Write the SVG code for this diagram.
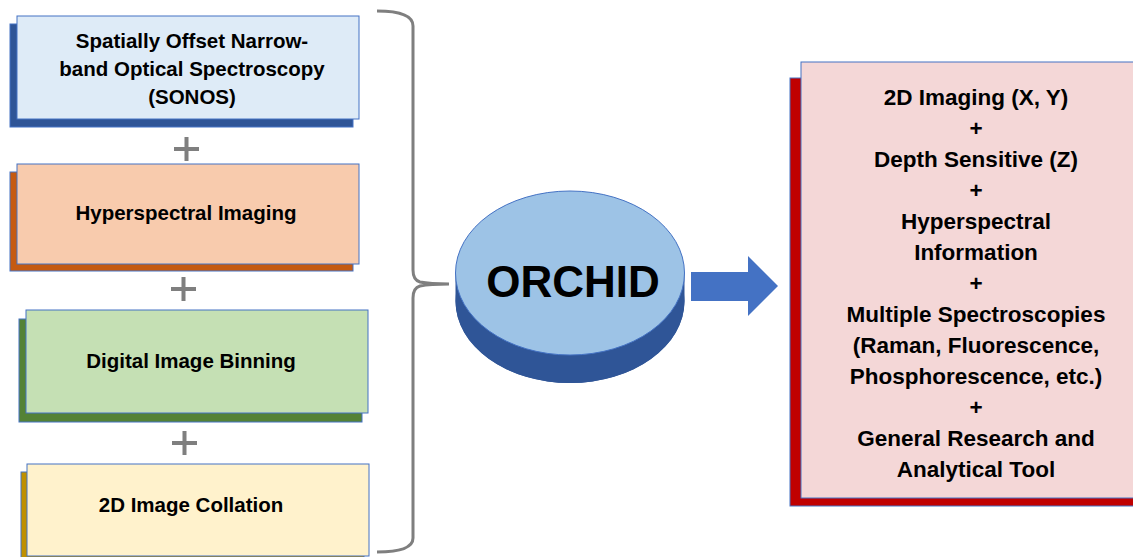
<svg xmlns="http://www.w3.org/2000/svg" width="1133" height="557" viewBox="0 0 1133 557">
  <style>
    .t { font-family: "Liberation Sans", Arial, sans-serif; font-weight: bold; fill: #000; text-anchor: middle; }
    .l { font-size: 20.5px; }
    .r { font-size: 22.5px; }
    .face { stroke: #4472C4; stroke-width: 1; }
    .back { stroke: #4472C4; stroke-width: 1; }
    .plus { stroke: #7F7F7F; stroke-width: 4; fill: none; }
    .brace { stroke: #7F7F7F; stroke-width: 3; fill: none; }
  </style>

  <!-- Input techniques -->
  <g id="sonos">
    <rect class="back" x="10" y="24" width="343" height="103" fill="#2F5597"/>
    <rect class="face" x="17" y="16" width="342" height="103" fill="#DEEBF7"/>
    <text class="t l" x="192" y="48">Spatially Offset Narrow-</text>
    <text class="t l" x="192" y="76">band Optical Spectroscopy</text>
    <text class="t l" x="192" y="104">(SONOS)</text>
  </g>

  <g id="hyperspectral">
    <rect class="back" x="10" y="172" width="343" height="99" fill="#C55A11"/>
    <rect class="face" x="17" y="164" width="342" height="100" fill="#F8CBAD"/>
    <text class="t l" x="186" y="220">Hyperspectral Imaging</text>
  </g>

  <g id="binning">
    <rect class="back" x="19" y="319" width="343" height="103" fill="#548235"/>
    <rect class="face" x="26" y="310" width="342" height="103" fill="#C5E0B4"/>
    <text class="t l" x="191" y="368">Digital Image Binning</text>
  </g>

  <g id="collation">
    <rect class="back" x="21" y="472" width="343" height="90" fill="#BF9000"/>
    <rect class="face" x="27" y="464" width="342" height="92" fill="#FFF2CC"/>
    <text class="t l" x="191" y="512">2D Image Collation</text>
  </g>

  <!-- Plus signs between techniques -->
  <g id="plus-signs">
    <path class="plus" d="M174,149 H199 M186.5,137 V161"/>
    <path class="plus" d="M171,289 H196 M183.5,277 V301"/>
    <path class="plus" d="M172,443 H197 M184.5,431 V455"/>
  </g>

  <!-- Central platform disc -->
  <g id="orchid">
    <path d="M455.5,273 V301 A114.5,82 0 0 0 684.5,301 V273 Z" fill="#2F5597"/>
    <ellipse cx="570" cy="301" rx="114.5" ry="82" fill="#2F5597"/>
    <ellipse cx="570" cy="273" rx="114.5" ry="82" fill="#9DC3E6" stroke="#4472C4" stroke-width="1"/>
    <text class="t" x="573" y="297" font-size="44">ORCHID</text>
  </g>

  <!-- Capabilities -->
  <g id="capabilities">
    <rect class="back" x="790" y="78" width="360" height="428" fill="#C00000"/>
    <rect class="face" x="801" y="62" width="350" height="436" fill="#F4D7D7"/>
    <text class="t r" x="976" y="105">2D Imaging (X, Y)</text>
    <text class="t r" x="976" y="136">+</text>
    <text class="t r" x="976" y="167">Depth Sensitive (Z)</text>
    <text class="t r" x="976" y="198">+</text>
    <text class="t r" x="976" y="229">Hyperspectral</text>
    <text class="t r" x="976" y="260">Information</text>
    <text class="t r" x="976" y="291">+</text>
    <text class="t r" x="976" y="322">Multiple Spectroscopies</text>
    <text class="t r" x="976" y="353">(Raman, Fluorescence,</text>
    <text class="t r" x="976" y="384">Phosphorescence, etc.)</text>
    <text class="t r" x="976" y="415">+</text>
    <text class="t r" x="976" y="446">General Research and</text>
    <text class="t r" x="976" y="477">Analytical Tool</text>
  </g>

  <!-- Connectors -->
  <g id="connectors">
    <path class="brace" d="M377,11 Q413,11 413,26 V270 Q413,280 420,282 Q430,284 449,284 Q430,284 420,286 Q413,288 413,298 V538 Q413,552 377,552"/>
    <path d="M691,272 H748 V256 L778,286 L748,316 V301 H691 Z" fill="#4472C4"/>
  </g>
</svg>
